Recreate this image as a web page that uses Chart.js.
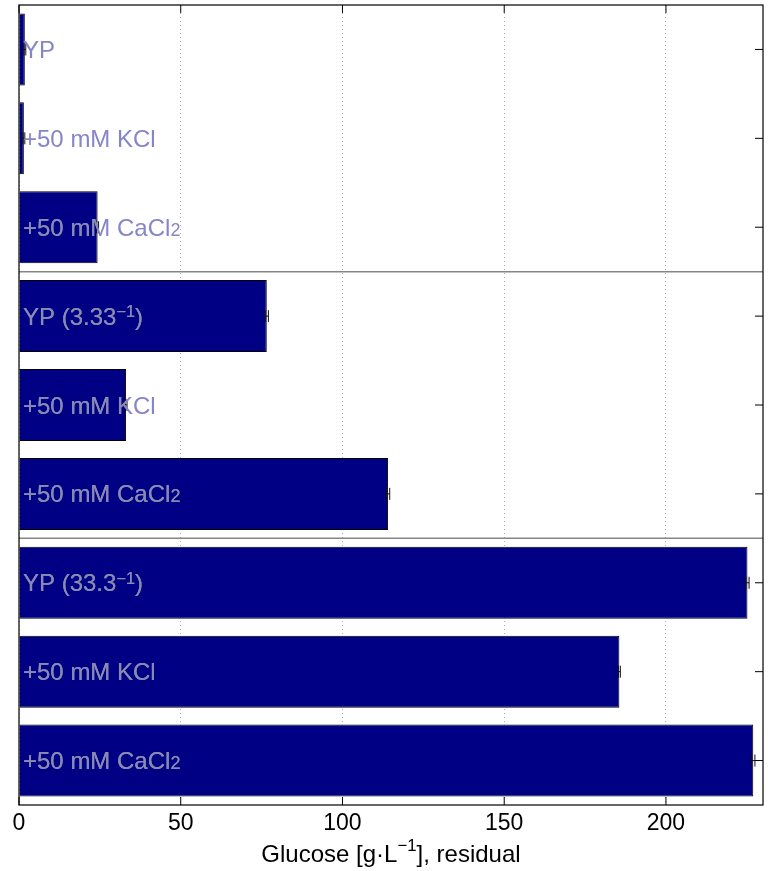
<!DOCTYPE html>
<html>
<head>
<meta charset="utf-8">
<script src="https://cdn.jsdelivr.net/npm/chart.js@4/dist/chart.umd.min.js"></script>
<style>
html,body{margin:0;padding:0;background:#fff;}
#wrap{width:768px;height:871px;}
</style>
</head>
<body>
<div id="wrap"><canvas id="c" width="768" height="871"></canvas></div>
<script>
// ---- data ----
const categories = ['YP', '+50 mM KCl', '+50 mM CaCl_{2}',
                    'YP (3.33^{\u22121})', '+50 mM KCl', '+50 mM CaCl_{2}',
                    'YP (33.3^{\u22121})', '+50 mM KCl', '+50 mM CaCl_{2}'];
const values = [1.8, 1.5, 24.3, 76.6, 33.1, 114.1, 225.2, 185.6, 227.0];
const errors = [0.3, 0.3, 0.3, 0.5, 0.3, 0.5, 0.5, 0.3, 0.5];
const xTicks = [0, 50, 100, 150, 200];
const groupBreaks = [2.5, 5.5];
const xTitle = 'Glucose [g\u00B7L^{\u22121}], residual';

const FONT = '"Liberation Sans", Arial, Helvetica, sans-serif';

function parseRich(s) {
  const out = [];
  const re = /(\^\{[^}]*\}|_\{[^}]*\})/g;
  let last = 0, m;
  while ((m = re.exec(s)) !== null) {
    if (m.index > last) out.push({t: s.slice(last, m.index), k: 'n'});
    out.push({t: m[0].slice(2, -1), k: m[0][0] === '^' ? 'sup' : 'sub'});
    last = m.index + m[0].length;
  }
  if (last < s.length) out.push({t: s.slice(last), k: 'n'});
  return out;
}
function partStyle(p, size, st) {
  if (p.k === 'sub') return {fs: size * st.subScale, dy: 0};
  if (p.k === 'sup') return {fs: size * st.supScale, dy: -size * st.supRaise};
  return {fs: size, dy: 0};
}
function richWidth(ctx, parts, size, st) {
  let w = 0;
  for (const p of parts) {
    ctx.font = partStyle(p, size, st).fs + 'px ' + FONT;
    w += ctx.measureText(p.t).width;
  }
  return w;
}
function drawRich(ctx, parts, x, baseline, size, st) {
  for (const p of parts) {
    const s = partStyle(p, size, st);
    ctx.font = s.fs + 'px ' + FONT;
    ctx.fillText(p.t, x, baseline + s.dy);
    x += ctx.measureText(p.t).width;
  }
}
const LABEL_ST = {subScale: 0.75, supScale: 0.68, supRaise: 0.3};
const TITLE_ST = {subScale: 0.75, supScale: 0.7, supRaise: 0.47};

const decor = {
  id: 'decor',
  afterDatasetsDraw(chart) {
    const ctx = chart.ctx, a = chart.chartArea;
    const xs = chart.scales.x, ys = chart.scales.y;
    const meta = chart.getDatasetMeta(0);
    ctx.save();
    // group separators
    ctx.strokeStyle = '#858585';
    ctx.lineWidth = 1.5;
    for (const b of groupBreaks) {
      const y = ys.getPixelForValue(b);
      ctx.beginPath(); ctx.moveTo(a.left, y); ctx.lineTo(a.right, y); ctx.stroke();
    }
    // error bars
    ctx.strokeStyle = '#111';
    ctx.lineWidth = 1;
    values.forEach((v, i) => {
      const y = ys.getPixelForValue(i);
      const x1 = xs.getPixelForValue(v - errors[i]);
      const x2 = xs.getPixelForValue(v + errors[i]);
      ctx.beginPath();
      ctx.moveTo(x1, y); ctx.lineTo(x2, y);
      ctx.moveTo(x1, y - 6); ctx.lineTo(x1, y + 6);
      ctx.moveTo(x2, y - 6); ctx.lineTo(x2, y + 6);
      ctx.stroke();
    });
    // labels
    ctx.textAlign = 'left';
    ctx.textBaseline = 'alphabetic';
    categories.forEach((c, i) => {
      const parts = parseRich(c);
      const y = ys.getPixelForValue(i);
      const base = y + 8.5;
      const x = a.left + 4;
      ctx.fillStyle = '#8585c8';
      drawRich(ctx, parts, x, base, 24, LABEL_ST);
      const el = meta.data[i];
      ctx.save();
      ctx.beginPath();
      ctx.rect(Math.min(el.base, el.x), el.y - el.height / 2, Math.abs(el.x - el.base), el.height);
      ctx.clip();
      ctx.fillStyle = '#8a8ab0';
      drawRich(ctx, parts, x, base, 24, LABEL_ST);
      ctx.restore();
    });
    // plot box
    ctx.strokeStyle = '#000';
    ctx.lineWidth = 1.2;
    ctx.strokeRect(a.left, a.top, a.right - a.left, a.bottom - a.top);
    // inward ticks
    ctx.lineWidth = 1;
    ctx.beginPath();
    categories.forEach((c, i) => {
      const y = ys.getPixelForValue(i);
      ctx.moveTo(a.right, y); ctx.lineTo(a.right - 8, y);
    });
    xTicks.forEach(t => {
      const x = xs.getPixelForValue(t);
      ctx.moveTo(x, a.bottom); ctx.lineTo(x, a.bottom - 8);
      ctx.moveTo(x, a.top); ctx.lineTo(x, a.top + 8);
    });
    ctx.stroke();
    // x title
    ctx.fillStyle = '#000';
    const tp = parseRich(xTitle);
    const tw = richWidth(ctx, tp, 24, TITLE_ST);
    drawRich(ctx, tp, (a.left + a.right) / 2 - tw / 2, 862, 24, TITLE_ST);
    ctx.restore();
  }
};

new Chart(document.getElementById('c'), {
  type: 'bar',
  data: {
    labels: categories,
    datasets: [{
      data: values,
      backgroundColor: '#000085',
      borderColor: '#000000',
      borderWidth: 1,
      barPercentage: 0.81,
      categoryPercentage: 1.0
    }]
  },
  options: {
    indexAxis: 'y',
    responsive: false,
    animation: false,
    devicePixelRatio: 1,
    layout: {padding: {left: 19, right: 5, top: 5, bottom: 0}},
    plugins: {legend: {display: false}, tooltip: {enabled: false}},
    scales: {
      x: {
        type: 'linear',
        position: 'bottom',
        min: 0, max: 230,
        afterBuildTicks: s => { s.ticks = xTicks.map(v => ({value: v})); },
        afterFit: s => { s.height = 66; },
        grid: {color: '#b0b0b0', lineWidth: 1, drawTicks: false},
        border: {display: false, dash: [1, 3]},
        ticks: {color: '#000', font: {family: FONT, size: 23}, padding: 5, maxRotation: 0}
      },
      y: {
        type: 'category',
        offset: true,
        display: false,
        grid: {display: false}
      }
    }
  },
  plugins: [decor]
});
</script>
</body>
</html>
